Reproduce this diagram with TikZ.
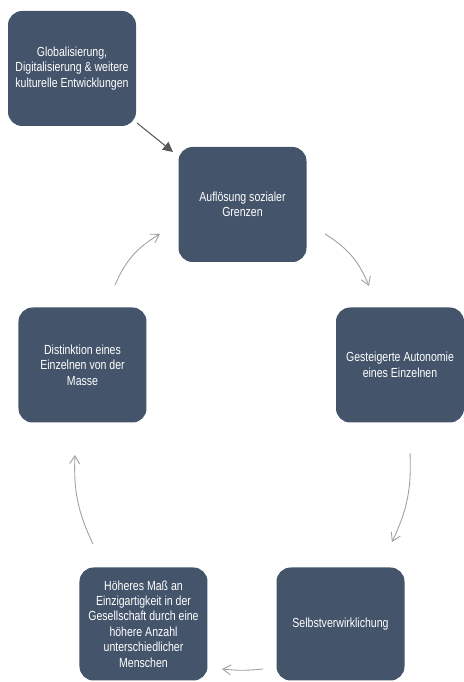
\documentclass[tikz,border=0pt]{standalone}
\usepackage{xcolor}
\usepackage{fontspec}
\setmainfont{Liberation Sans}[FakeStretch=0.8]
\usepackage{tikz}
\usetikzlibrary{arrows.meta}

\definecolor{boxblue}{HTML}{44546A}
\definecolor{linegray}{HTML}{A0A0A0}
\definecolor{darkline}{HTML}{595959}

\begin{document}
\begin{tikzpicture}[
    stage/.style={rectangle, rounded corners=8pt, fill=boxblue, text=white, minimum width=2.56cm, minimum height=2.3cm, align=center, inner sep=1pt, font=\fontsize{7.5}{8.8}\selectfont},
    arrow/.style={-{Straight Barb[length=1.6mm, width=2mm]}, linegray, line width=0.5pt},
    darrow/.style={-{Triangle[length=2mm, width=2mm]}, darkline, line width=0.6pt}
]
\useasboundingbox (0,0) rectangle (9.28,13.64);

% Stages
\node[stage] (glob) at (1.44, 12.27) {Globalisierung,\\Digitalisierung \& weitere\\kulturelle Entwicklungen};
\node[stage] (aufl) at (4.85, 9.55) {Auflösung sozialer\\Grenzen};
\node[stage] (auto) at (8.00, 6.34) {Gesteigerte Autonomie\\eines Einzelnen};
\node[stage, minimum height=2.26cm] (selbst) at (6.81, 1.16) {Selbstverwirklichung};
\node[stage, minimum height=2.26cm] (hoeh) at (2.87, 1.16) {Höheres Maß an\\Einzigartigkeit in der\\Gesellschaft durch eine\\höhere Anzahl\\unterschiedlicher\\Menschen};
\node[stage] (dist) at (1.65, 6.34) {Distinktion eines\\Einzelnen von der\\Masse};

% Arrow ends
\coordinate (a1s) at (2.74, 11.18);
\coordinate (a1e) at (3.46, 10.60);
\coordinate (a2s) at (6.50, 8.96);
\coordinate (a2e) at (7.38, 7.92);
\coordinate (a3s) at (8.20, 4.58);
\coordinate (a3e) at (7.84, 2.80);
\coordinate (a4s) at (5.26, 0.26);
\coordinate (a4e) at (4.44, 0.26);
\coordinate (a5s) at (1.86, 2.76);
\coordinate (a5e) at (1.50, 4.54);
\coordinate (a6s) at (2.30, 7.94);
\coordinate (a6e) at (3.20, 8.96);

% Connections
\draw[darrow] (a1s) -- (a1e);
\draw[arrow] (a2s) to[bend left=18] (a2e);
\draw[arrow] (a3s) to[bend left=14] (a3e);
\draw[arrow] (a4s) to[bend left=6] (a4e);
\draw[arrow] (a5s) to[bend left=14] (a5e);
\draw[arrow] (a6s) to[bend left=18] (a6e);

\end{tikzpicture}
\end{document}
